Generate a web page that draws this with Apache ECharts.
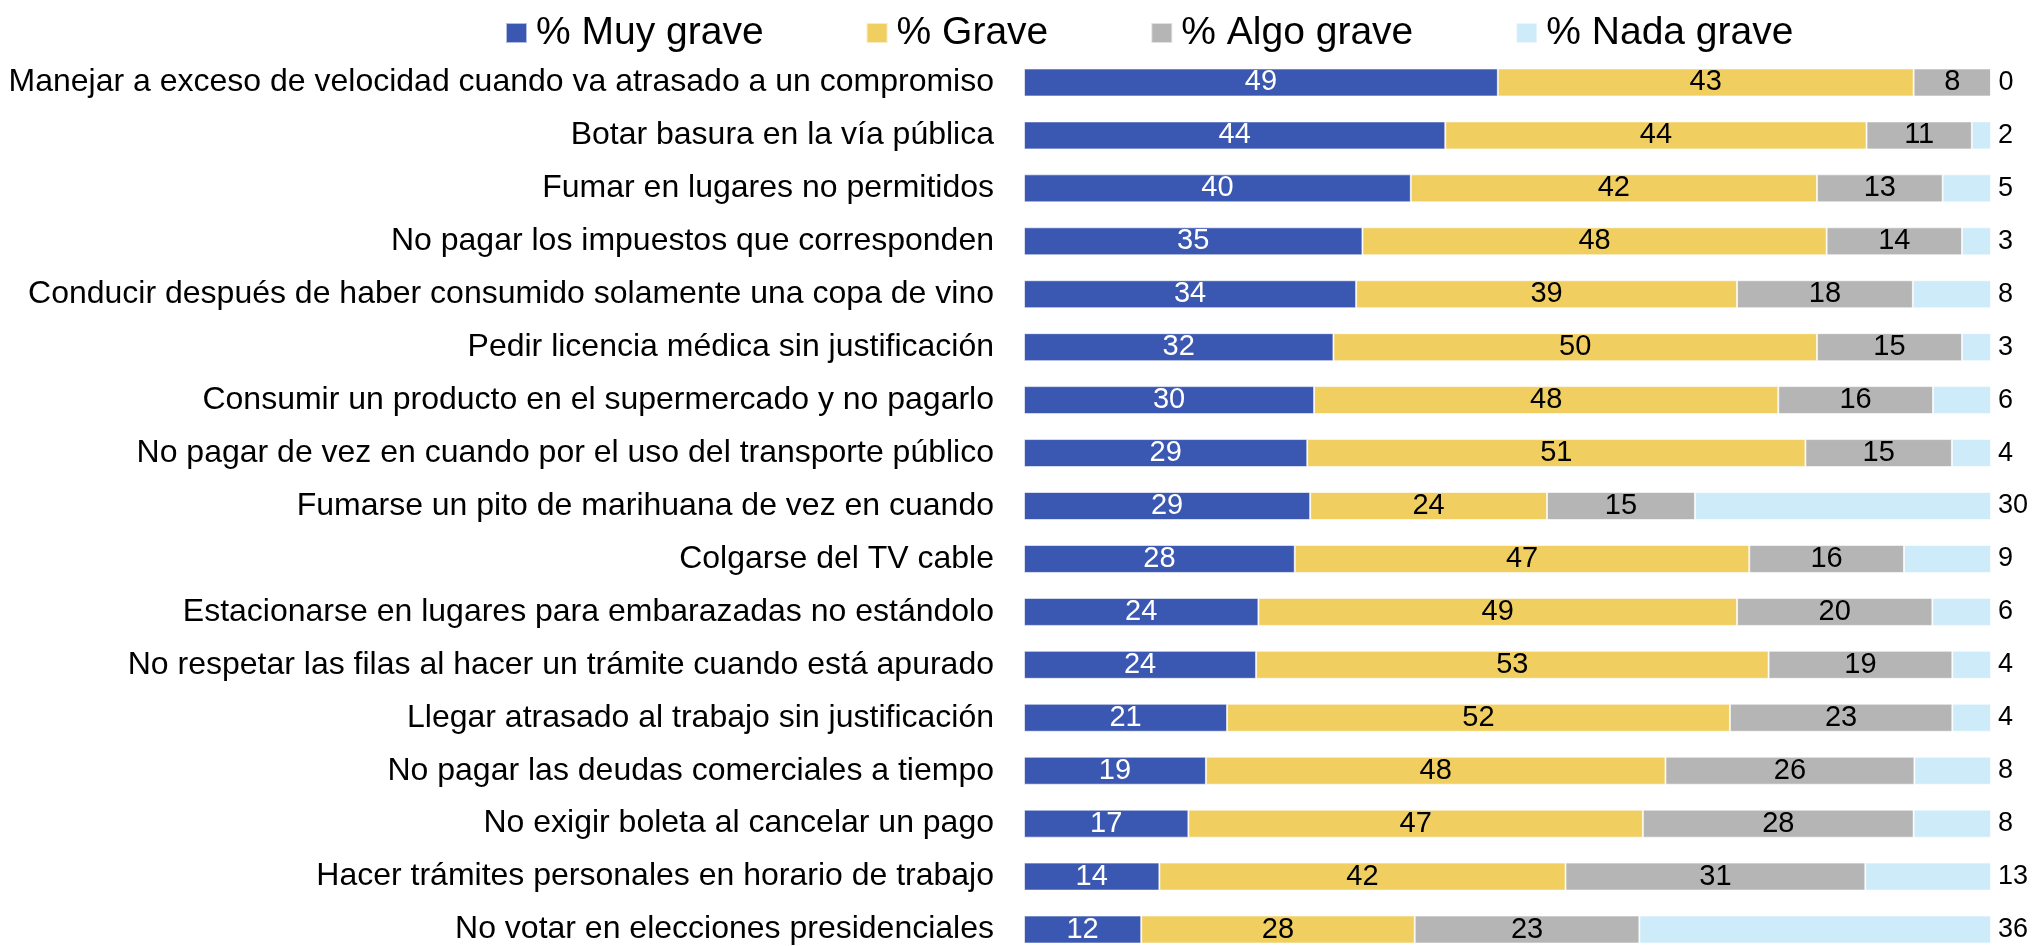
<!DOCTYPE html>
<html>
<head>
<meta charset="utf-8">
<script src="https://cdn.jsdelivr.net/npm/echarts@6/dist/echarts.min.js"></script>
<style>
  html, body { margin: 0; padding: 0; background: #ffffff; overflow: hidden; }
  #chart { width: 2032px; height: 960px; }
</style>
</head>
<body>
<div id="chart"></div>
<script>
// Conductas evaluadas (de arriba hacia abajo)
const categories = [
  'Manejar a exceso de velocidad cuando va atrasado a un compromiso',
  'Botar basura en la vía pública',
  'Fumar en lugares no permitidos',
  'No pagar los impuestos que corresponden',
  'Conducir después de haber consumido solamente una copa de vino',
  'Pedir licencia médica sin justificación',
  'Consumir un producto en el supermercado y no pagarlo',
  'No pagar de vez en cuando por el uso del transporte público',
  'Fumarse un pito de marihuana de vez en cuando',
  'Colgarse del TV cable',
  'Estacionarse en lugares para embarazadas no estándolo',
  'No respetar las filas al hacer un trámite cuando está apurado',
  'Llegar atrasado al trabajo sin justificación',
  'No pagar las deudas comerciales a tiempo',
  'No exigir boleta al cancelar un pago',
  'Hacer trámites personales en horario de trabajo',
  'No votar en elecciones presidenciales'
];

const seriesNames = ['% Muy grave', '% Grave', '% Algo grave', '% Nada grave'];

const muyGrave  = [49, 44, 40, 35, 34, 32, 30, 29, 29, 28, 24, 24, 21, 19, 17, 14, 12];
const grave     = [43, 44, 42, 48, 39, 50, 48, 51, 24, 47, 49, 53, 52, 48, 47, 42, 28];
const algoGrave = [ 8, 11, 13, 14, 18, 15, 16, 15, 15, 16, 20, 19, 23, 26, 28, 31, 23];
const nadaGrave = [ 0,  2,  5,  3,  8,  3,  6,  4, 30,  9,  6,  4,  4,  8,  8, 13, 36];

const colors = ['#3A57B1', '#F0CE60', '#B5B5B5', '#CDEBF9'];
const labelColors = ['#ffffff', '#000000', '#000000', '#000000'];
const FONT = '"Liberation Sans", Arial, sans-serif';

const groups = [muyGrave, grave, algoGrave, nadaGrave];
// each row is shown as a 100% stacked bar
const rowTotals = categories.map((_, i) => groups.reduce((s, g) => s + g[i], 0));

const series = groups.map((vals, k) => ({
  name: seriesNames[k],
  type: 'bar',
  stack: 'total',
  barWidth: 28,
  itemStyle: { color: colors[k], borderColor: 'rgba(255,255,255,0.6)', borderWidth: 1 },
  data: vals.map((v, i) => ({ value: v / rowTotals[i] * 100, raw: v })),
  label: {
    show: true,
    position: k === 3 ? 'right' : 'inside',
    distance: 7,
    color: labelColors[k],
    fontFamily: FONT,
    fontSize: k === 3 ? 27 : 29,
    formatter: p => String(p.data.raw)
  },
  emphasis: { disabled: true }
}));

const chart = echarts.init(document.getElementById('chart'));
chart.setOption({
  animation: false,
  backgroundColor: '#ffffff',
  legend: {
    top: 8,
    left: 500,
    itemWidth: 21,
    itemHeight: 20,
    itemGap: 102,
    icon: 'rect',
    textStyle: { fontFamily: FONT, fontSize: 39, lineHeight: 40, color: '#000000', padding: [0, 0, 0, 4] },
    data: seriesNames
  },
  grid: { left: 1024, right: 41, top: 56, bottom: 4 },
  xAxis: {
    type: 'value',
    min: 0,
    max: 100,
    show: false
  },
  yAxis: {
    type: 'category',
    inverse: true,
    data: categories,
    axisLine: { show: false },
    axisTick: { show: false },
    axisLabel: { fontFamily: FONT, fontSize: 32, color: '#000000', margin: 30 }
  },
  series: series
});
</script>
</body>
</html>
